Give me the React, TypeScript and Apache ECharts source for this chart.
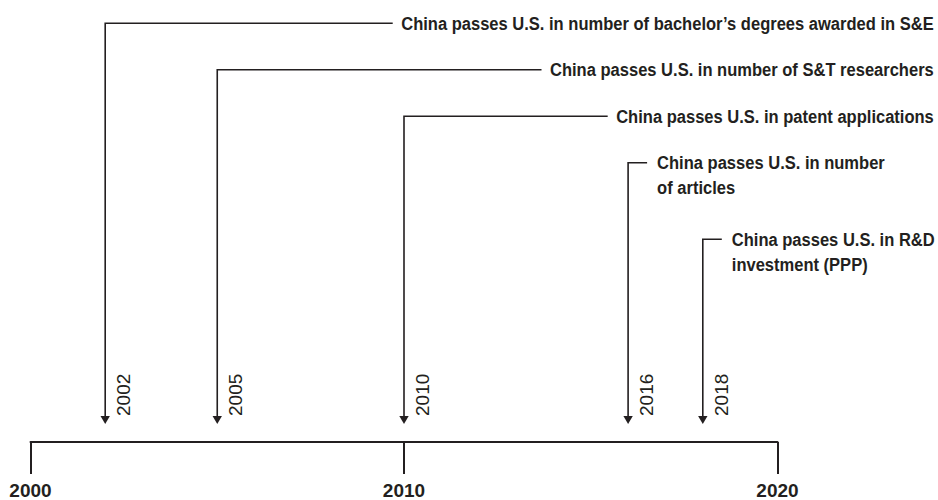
import React, { useEffect, useRef } from "react";
import * as echarts from "echarts";

// ---- data ----
const eventYears = [2002, 2005, 2010, 2016, 2018];
const eventLabels = [
  "China passes U.S. in number of bachelor’s degrees awarded in S&E",
  "China passes U.S. in number of S&T researchers",
  "China passes U.S. in patent applications",
  "China passes U.S. in number\nof articles",
  "China passes U.S. in R&D\ninvestment (PPP)",
];
const axisStart = 2000;
const axisEnd = 2020;
const axisStep = 10;

// ---- style ----
const INK = "#231f20";
const SANS = '"Liberation Sans", Arial, sans-serif';
const LABEL_SIZE = 19;
const LABEL_LH = 25;
const NARROW_SCALE = 0.87;

function measure(text: string, font: string): number {
  const ctx = document.createElement("canvas").getContext("2d")!;
  ctx.font = font;
  return ctx.measureText(text).width;
}

export default function App() {
  const ref = useRef<HTMLDivElement>(null);
  useEffect(() => {
    if (!ref.current) return;
    const chart = echarts.init(ref.current, null, { renderer: "svg" });
    const labelFont = `bold ${LABEL_SIZE}px ${SANS}`;

    const renderItem = (params: any, api: any) => {
      const idx = params.dataIndex;
      const year = api.value(0);
      const cs = params.coordSys;
      const axisY = cs.y + cs.height;
      const x = api.coord([year, 0])[0];
      let rowY = 23.3;
      for (let i = 0; i < idx; i++) {
        rowY += 46.5 + (eventLabels[i].split("\n").length - 1) * 30;
      }
      const tipY = axisY - 18;
      const headH = 8;
      const headW = 4.7;
      const lines = eventLabels[idx].split("\n");
      const multi = lines.length > 1;
      const widest =
        Math.max(...lines.map((l) => measure(l, labelFont))) * NARROW_SCALE;
      const rightEdge = api.getWidth() - 4;
      const textX = multi ? x + 29 : rightEdge - widest;
      const gap = multi ? 10 : 8.5;
      const texts = lines.map((line, j) => ({
        type: "text",
        x: textX,
        y: rowY + j * LABEL_LH,
        scaleX: NARROW_SCALE,
        style: {
          text: line,
          font: labelFont,
          fill: INK,
          align: "left",
          verticalAlign: "middle",
        },
      }));
      return {
        type: "group",
        children: [
          {
            type: "polyline",
            shape: {
              points: [
                [textX - gap, rowY],
                [x, rowY],
                [x, tipY - headH + 1],
              ],
            },
            style: { stroke: INK, lineWidth: 1.6, fill: null },
          },
          {
            type: "polygon",
            shape: {
              points: [
                [x - headW, tipY - headH],
                [x + headW, tipY - headH],
                [x, tipY],
              ],
            },
            style: { fill: INK, stroke: null },
          },
          ...texts,
          {
            type: "text",
            x: x + 18.3,
            y: tipY - headH,
            rotation: Math.PI / 2,
            style: {
              text: String(year),
              font: `normal 19px ${SANS}`,
              fill: INK,
              align: "left",
              verticalAlign: "middle",
            },
          },
        ],
      };
    };

    chart.setOption({
      animation: false,
      grid: { left: 30.5, right: 160.5, top: 0, bottom: 57, containLabel: false },
      xAxis: {
        type: "value",
        min: axisStart,
        max: axisEnd,
        interval: axisStep,
        splitLine: { show: false },
        axisLine: { show: true, lineStyle: { color: INK, width: 2 } },
        axisTick: { show: true, length: 32, lineStyle: { color: INK, width: 2 } },
        axisLabel: {
          margin: 39,
          color: INK,
          fontFamily: SANS,
          fontWeight: "bold",
          fontSize: 19,
          formatter: (v: number) => String(v),
        },
      },
      yAxis: { type: "value", min: 0, max: 1, show: false },
      series: [
        {
          type: "custom",
          renderItem,
          data: eventYears.map((y, i) => [y, i]),
          clip: false,
        },
      ],
    });
    return () => chart.dispose();
  }, []);
  return (
    <div
      ref={ref}
      style={{ position: "fixed", left: 0, top: 0, width: 938, height: 500, background: "#fff" }}
    />
  );
}
